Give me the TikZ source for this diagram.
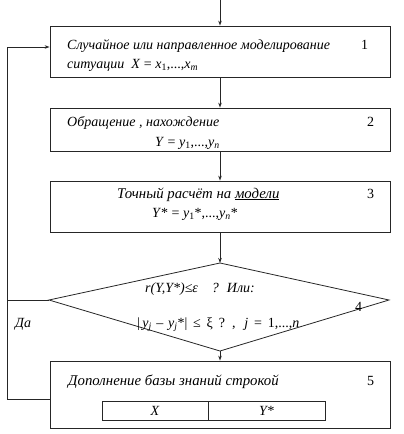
\documentclass[tikz,border=0pt]{standalone}
\usepackage{fontspec}
\setmainfont{Liberation Serif}
\usetikzlibrary{arrows.meta}
\newcommand{\mysub}[1]{\textsubscript{#1}}
\begin{document}
\begin{tikzpicture}[x=1pt,y=-1pt,
  line/.style={draw=black!85, line width=0.8pt},
  arr/.style={line, -{Stealth[length=5pt,width=3.5pt]}},
  box/.style={line, rectangle, minimum width=340pt, inner sep=0pt},
  txt/.style={anchor=base west, inner sep=0pt, font=\fontsize{14}{16}\selectfont\itshape},
  wtxt/.style={anchor=base west, inner sep=0pt, font=\fontsize{14.8}{16}\selectfont\itshape},
  num/.style={anchor=base west, inner sep=0pt, font=\fontsize{14}{16}\selectfont}]
\useasboundingbox (0,0) rectangle (404,434);
% boxes
\node[box, minimum height=51pt] (b1) at (220,51.5) {};
\node[box, minimum height=43pt] (b2) at (220,129.5) {};
\node[box, minimum height=51pt] (b3) at (220,206.5) {};
\node[box, minimum height=67pt] (b5) at (220,394.5) {};
\node[line, rectangle, minimum width=106pt, minimum height=19pt, inner sep=0pt] (tx) at (155,410.5) {};
\node[line, rectangle, minimum width=117pt, minimum height=19pt, inner sep=0pt] (ty) at (266.5,410.5) {};
% diamond
\coordinate (dt) at (220,263);
\coordinate (dl) at (49,300);
\coordinate (dr) at (389,300);
\coordinate (db) at (220,351);
\draw[line] (dt) -- (dr) -- (db) -- (dl) -- cycle;
% texts
\node[txt] (t1a) at (67,49) {Случайное или направленное моделирование};
\node[num] (n1) at (361,49) {1};
\node[txt] (t1b) at (67,68) {ситуации\ \ \textit{X} \textup{=} \textit{x}\mysub{\upshape 1}\textup{,...,}\textit{x}\mysub{\itshape m}};
\node[txt] (t2a) at (67,126) {Обращение , нахождение};
\node[num] (n2) at (367,126) {2};
\node[txt] (t2b) at (155,146) {Y \textup{=} y\mysub{\upshape 1}\textup{,...,}y\mysub{n}};
\node[wtxt] (t3a) at (117,198) {Точный расчёт на \underline{модели}};
\node[num] (n3) at (367,198) {3};
\node[txt] (t3b) at (152,217) {Y\textup{* =} y\mysub{\upshape 1}\textup{*,...,}y\mysub{n}\textup{*}};
\node[txt] (t4a) at (145,292) {r(Y,Y*)≤ε\hspace{14pt}?\hspace{8pt}Или:};
\node[num] (n4) at (355,311) {4};
\node[num] (t4b) at (137,327) {|\,\textit{y}\mysub{\itshape j}\,\,–\,\,\textit{y}\mysub{\itshape j}*|\, ≤\, ξ\, ?\, ,\hspace{9pt}\textit{j}\, =\, 1,...,\textit{n}};
\node[txt] (da) at (15,327) {Да};
\node[wtxt] (t5) at (68,385) {Дополнение базы знаний строкой};
\node[num] (n5) at (367,385) {5};
\node[txt, anchor=center] (tX) at (tx) {X};
\node[txt, anchor=center] (tY) at (ty) {Y*};
% arrows
\coordinate (top) at (220,0);
\draw[arr] (top) -- (b1.north);
\draw[arr] (b1.south) -- (b2.north);
\draw[arr] (b2.south) -- (b3.north);
\draw[arr] (b3.south) -- (dt);
\draw[arr] (db) -- (b5.north);
% feedback
\coordinate (fbl) at (7,399);
\coordinate (fbt) at (7,47);
\draw[arr] (b5.west |- fbl) -- (fbl) -- (fbt) -- (b1.west |- fbt);
\draw[line] (dl) -- (dl -| fbl);
\end{tikzpicture}
\end{document}
